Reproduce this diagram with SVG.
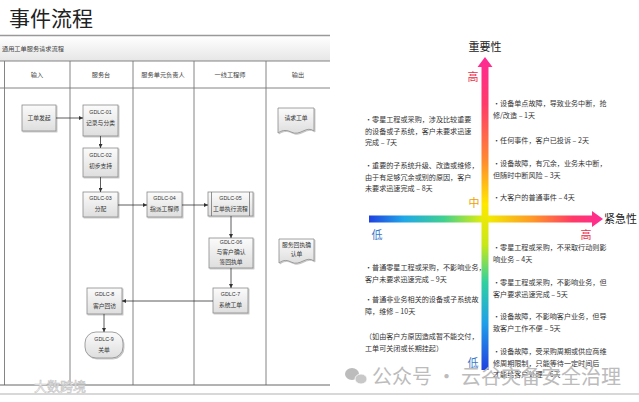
<svg xmlns="http://www.w3.org/2000/svg" width="639" height="402" viewBox="0 0 639 402">
<defs>
<linearGradient id="boxg" x1="0" y1="0" x2="0" y2="1"><stop offset="0" stop-color="#fbfbfb"/><stop offset="1" stop-color="#dedede"/></linearGradient>
<linearGradient id="hdr" x1="0" y1="0" x2="0" y2="1"><stop offset="0" stop-color="#ffffff"/><stop offset="1" stop-color="#e6e6e6"/></linearGradient>
<linearGradient id="vg" gradientUnits="userSpaceOnUse" x1="0" y1="57" x2="0" y2="370">
<stop offset="0" stop-color="#ff2a95"/><stop offset="0.15" stop-color="#ff3a6a"/><stop offset="0.33" stop-color="#ff8a30"/><stop offset="0.47" stop-color="#ffe800"/><stop offset="0.6" stop-color="#c8e818"/><stop offset="0.72" stop-color="#30d0a0"/><stop offset="0.85" stop-color="#20a0e8"/><stop offset="1" stop-color="#2040e0"/></linearGradient>
<linearGradient id="hg" gradientUnits="userSpaceOnUse" x1="369" y1="0" x2="603" y2="0">
<stop offset="0" stop-color="#2040e0"/><stop offset="0.15" stop-color="#20a8e8"/><stop offset="0.32" stop-color="#40d090"/><stop offset="0.5" stop-color="#f0f000"/><stop offset="0.7" stop-color="#ff9828"/><stop offset="0.87" stop-color="#ff3a66"/><stop offset="1" stop-color="#ff2a95"/></linearGradient>
<marker id="ah" viewBox="0 0 10 10" refX="10" refY="5" markerWidth="5" markerHeight="5" orient="auto"><path d="M0,0 L10,5 L0,10 z" fill="#333"/></marker>
<filter id="sh" x="-10%" y="-10%" width="130%" height="130%"><feDropShadow dx="1" dy="1" stdDeviation="0.6" flood-color="#000" flood-opacity="0.25"/></filter>
</defs>
<style>
.cjk{font-family:"Noto Sans CJK SC","Noto Sans",sans-serif}
.title{font-size:21px;fill:#222}
.hd{font-size:6.2px;fill:#444}
.bx{fill:url(#boxg);stroke:#8a8a8a;stroke-width:0.8}
.g{font-family:"Liberation Sans",sans-serif;font-size:5.3px;fill:#333;text-anchor:middle}
.t{font-size:5.8px;fill:#333;text-anchor:middle}
.lane{stroke:#777;stroke-width:0.9;fill:none}
.con{stroke:#333;stroke-width:0.8;fill:none;marker-end:url(#ah)}
.q{font-size:7.1px;fill:#333}
.ax{font-size:11px;fill:#222}
.hi{font-size:11px;fill:#e8304a}
.mid{font-size:11px;fill:#f0a000}
.lo{font-size:11px;fill:#3a78c8}
.wm{font-size:20px;fill:#bcbcbc}
</style>
<rect width="639" height="402" fill="#ffffff"/>
<text class="cjk title" x="9" y="26">事件流程</text>
<g id="panel">
<rect x="0" y="36" width="330" height="25" fill="url(#hdr)"/>
<line x1="0" y1="35.5" x2="330" y2="35.5" stroke="#999" stroke-width="1.4"/>
<text class="cjk hd" x="2" y="51">通用工单服务请求流程</text>
<line x1="0" y1="61" x2="330" y2="61" class="lane"/>
<line x1="0" y1="88" x2="330" y2="88" class="lane"/>
<line x1="4.5" y1="61" x2="4.5" y2="385" class="lane"/>
<line x1="70" y1="61" x2="70" y2="385" class="lane"/>
<line x1="133" y1="61" x2="133" y2="385" class="lane"/>
<line x1="194" y1="61" x2="194" y2="385" class="lane"/>
<line x1="266" y1="61" x2="266" y2="385" class="lane"/>
<line x1="0" y1="385" x2="330" y2="385" stroke="#666" stroke-width="1"/>
<text class="cjk hd" x="37" y="77" text-anchor="middle">输入</text>
<text class="cjk hd" x="101" y="77" text-anchor="middle">服务台</text>
<text class="cjk hd" x="163" y="77" text-anchor="middle">服务单元负责人</text>
<text class="cjk hd" x="230" y="77" text-anchor="middle">一线工程师</text>
<text class="cjk hd" x="298" y="77" text-anchor="middle">输出</text>
</g>
<g id="n-start"><rect class="bx" filter="url(#sh)" x="22" y="105" width="34" height="26"/><text class="cjk t" x="39" y="120">工单发起</text></g>
<g id="n-01"><rect class="bx" filter="url(#sh)" x="83" y="105" width="35" height="31"/><text class="g" x="100.5" y="114">GDLC-01</text><text class="cjk t" x="100.5" y="125">记录与分类</text></g>
<g id="n-02"><rect class="bx" filter="url(#sh)" x="83" y="148" width="35" height="29"/><text class="g" x="100.5" y="157">GDLC-02</text><text class="cjk t" x="100.5" y="168">初步支持</text></g>
<g id="n-03"><rect class="bx" filter="url(#sh)" x="83" y="192" width="35" height="25"/><text class="g" x="100.5" y="200">GDLC-03</text><text class="cjk t" x="100.5" y="211">分配</text></g>
<g id="n-04"><rect class="bx" filter="url(#sh)" x="147" y="192" width="35" height="25"/><text class="g" x="164.5" y="200">GDLC-04</text><text class="cjk t" x="164.5" y="211">指派工程师</text></g>
<g id="n-05"><rect class="bx" filter="url(#sh)" x="208" y="192" width="45" height="24"/><line x1="211.5" y1="192" x2="211.5" y2="216" stroke="#666" stroke-width="0.7"/><line x1="249.5" y1="192" x2="249.5" y2="216" stroke="#666" stroke-width="0.7"/><text class="g" x="230.5" y="200">GDLC-05</text><text class="cjk t" x="230.5" y="211">工单执行流程</text></g>
<g id="n-06"><rect class="bx" filter="url(#sh)" x="209" y="238" width="44" height="30"/><text class="g" x="231" y="243.5">GDLC-06</text><text class="cjk t" x="231" y="254">与客户确认</text><text class="cjk t" x="231" y="264">签回执单</text></g>
<g id="n-07"><rect class="bx" filter="url(#sh)" x="213" y="288" width="35" height="25"/><text class="g" x="230.5" y="296">GDLC-7</text><text class="cjk t" x="230.5" y="307">系统工单</text></g>
<g id="n-08"><rect class="bx" filter="url(#sh)" x="87" y="288" width="35" height="26"/><text class="g" x="104.5" y="296">GDLC-8</text><text class="cjk t" x="104.5" y="308">客户回访</text></g>
<g id="n-09"><rect class="bx" filter="url(#sh)" x="85" y="332" width="38" height="26" rx="11"/><text class="g" x="104" y="341">GDLC-9</text><text class="cjk t" x="104" y="352">关单</text></g>
<g id="n-doc1"><path class="bx" filter="url(#sh)" d="M278,108 H314 V131 C306,125 300,137 291,132 C285,129 281,131 278,133 Z"/><text class="cjk t" x="296" y="120">请求工单</text></g>
<g id="n-doc2"><path class="bx" filter="url(#sh)" d="M279,239 H314 V261 C306,255 300,267 291,262 C285,259 282,261 279,263 Z"/><text class="cjk t" x="296.5" y="247">服务回执确</text><text class="cjk t" x="296.5" y="256">认单</text></g>
<g id="connectors">
<line class="con" x1="56" y1="118" x2="83" y2="118"/>
<line class="con" x1="100.5" y1="136" x2="100.5" y2="148"/>
<line class="con" x1="100.5" y1="177" x2="100.5" y2="192"/>
<line class="con" x1="118" y1="205" x2="147" y2="205"/>
<line class="con" x1="182" y1="205" x2="208" y2="205"/>
<line class="con" x1="231" y1="216" x2="231" y2="238"/>
<line class="con" x1="231" y1="268" x2="231" y2="288"/>
<line class="con" x1="213" y1="301" x2="122" y2="301"/>
<line class="con" x1="104" y1="314" x2="104" y2="332"/>
</g>
<g id="axes">
<path d="M369,215.5 H592 V211 L603,219 L592,227 V222.5 H369 Z" fill="url(#hg)"/>
<path d="M481.5,370 V67 H477.5 L485,57 L492.5,67 H488.5 V370 Z" fill="url(#vg)"/>
<text class="cjk ax" x="485" y="51" text-anchor="middle">重要性</text>
<text class="cjk ax" x="604" y="223">紧急性</text>
<text class="cjk hi" x="473" y="81" text-anchor="middle">高</text>
<text class="cjk mid" x="474" y="207" text-anchor="middle">中</text>
<text class="cjk lo" x="377" y="239" text-anchor="middle">低</text>
<text class="cjk hi" x="586" y="239" text-anchor="middle">高</text>
<text class="cjk lo" x="473" y="367" text-anchor="middle">低</text>
</g>
<g id="q-upper-left" class="cjk q">
<text x="365" y="122">•零星工程或采购，涉及比较重要</text>
<text x="365" y="133.5">的设备或子系统，客户未要求迅速</text>
<text x="365" y="145">完成 – 7天</text>
<text x="365" y="168">•重要的子系统升级、改造或维修，</text>
<text x="365" y="179.5">由于有足够冗余或别的原因，客户</text>
<text x="365" y="191">未要求迅速完成 – 8天</text>
</g>
<g id="q-upper-right" class="cjk q">
<text x="493" y="106">•设备单点故障，导致业务中断，抢</text>
<text x="493" y="117.5">修/改造 – 1天</text>
<text x="493" y="143">•任何事件，客户已投诉 – 2天</text>
<text x="493" y="166">•设备故障，有冗余，业务未中断，</text>
<text x="493" y="177.5">但随时中断风险 – 3天</text>
<text x="493" y="200">•大客户的普通事件 – 4天</text>
</g>
<g id="q-lower-left" class="cjk q">
<text x="365" y="270">•普通零星工程或采购，不影响业务，</text>
<text x="365" y="281.5">客户未要求迅速完成 – 9天</text>
<text x="365" y="302">•普通非业务相关的设备或子系统故</text>
<text x="365" y="313.5">障，维修 – 10天</text>
<text x="365" y="339">（如由客户方原因造成暂不能交付，</text>
<text x="365" y="350.5">工单可关闭或长期挂起）</text>
</g>
<g id="q-lower-right" class="cjk q">
<text x="493" y="250">•零星工程或采购，不采取行动则影</text>
<text x="493" y="261.5">响业务 – 4天</text>
<text x="493" y="285">•零星工程或采购，不影响业务，但</text>
<text x="493" y="296.5">客户要求迅速完成 – 5天</text>
<text x="493" y="319">•设备故障，不影响客户业务，但导</text>
<text x="493" y="330.5">致客户工作不便 – 5天</text>
<text x="493" y="354">•设备故障，受采购周期或供应商维</text>
<text x="493" y="365.5">修周期限制，只能等待一定时间后</text>
<text x="493" y="377">才能给客户处理 – 6天</text>
</g>
<line x1="0" y1="394" x2="639" y2="394" stroke="#d8d8d8" stroke-width="2"/>
<g id="watermark">
<ellipse cx="352" cy="374" rx="7" ry="6" fill="#bcbcbc"/>
<ellipse cx="361" cy="379" rx="6" ry="5" fill="#c8c8c8" stroke="#fff" stroke-width="0.8"/>
<text class="cjk wm" x="372" y="384">公众号 · 云谷灾备安全治理</text>
<text class="cjk" x="34" y="391" font-size="13" fill="#ffffff" stroke="#c4c4c4" stroke-width="0.6">大数跨境</text>
</g>
</svg>
